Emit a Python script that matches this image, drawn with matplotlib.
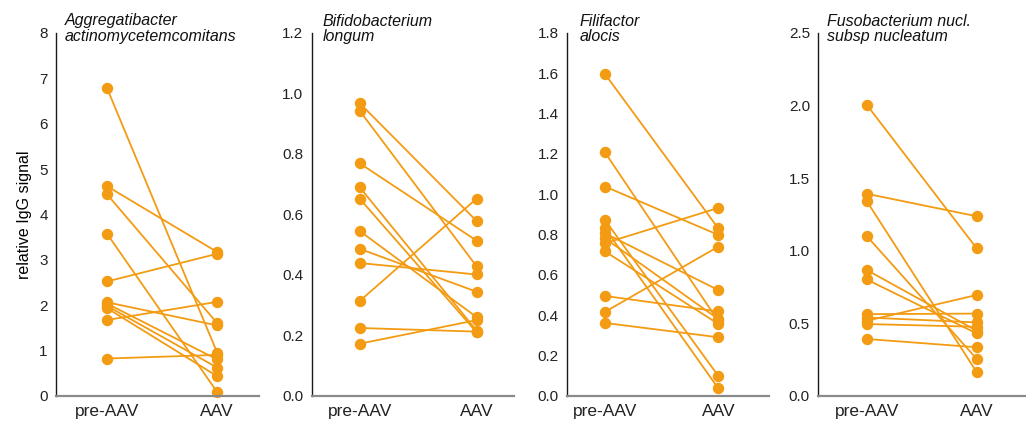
import matplotlib
matplotlib.use("Agg")
import matplotlib.pyplot as plt
from matplotlib.ticker import FormatStrFormatter

plt.rcParams['font.family'] = ['Liberation Sans', 'DejaVu Sans']

groups = ["pre-AAV", "AAV"]

titles = [
    ("Aggregatibacter", "actinomycetemcomitans"),
    ("Bifidobacterium", "longum"),
    ("Filifactor", "alocis"),
    ("Fusobacterium nucl.", "subsp nucleatum"),
]

aa_pre = [6.78, 4.62, 4.44, 3.57, 2.52, 2.06, 2.03, 1.98, 1.93, 1.67, 0.82]
aa_aav = [0.95, 3.17, 1.60, 0.08, 3.13, 1.55, 0.80, 0.62, 0.43, 2.07, 0.90]

bl_pre = [0.968, 0.943, 0.769, 0.690, 0.652, 0.545, 0.486, 0.439, 0.313, 0.224, 0.172]
bl_aav = [0.578, 0.428, 0.513, 0.215, 0.210, 0.260, 0.344, 0.401, 0.652, 0.212, 0.250]

fa_pre = [1.596, 1.207, 1.038, 0.871, 0.830, 0.806, 0.781, 0.757, 0.716, 0.495, 0.416, 0.361]
fa_aav = [0.830, 0.370, 0.798, 0.098, 0.036, 0.524, 0.380, 0.932, 0.356, 0.418, 0.740, 0.290]

fn_pre = [2.006, 1.392, 1.342, 1.101, 0.867, 0.801, 0.562, 0.539, 0.516, 0.494, 0.391]
fn_aav = [1.017, 1.237, 0.164, 0.255, 0.448, 0.430, 0.566, 0.505, 0.694, 0.475, 0.334]

yticks = [
    [0, 1, 2, 3, 4, 5, 6, 7, 8],
    [0.0, 0.2, 0.4, 0.6, 0.8, 1.0, 1.2],
    [0.0, 0.2, 0.4, 0.6, 0.8, 1.0, 1.2, 1.4, 1.6, 1.8],
    [0.0, 0.5, 1.0, 1.5, 2.0, 2.5],
]
yfmt = ['%d', '%.1f', '%.1f', '%.1f']
pre_vals = [aa_pre, bl_pre, fa_pre, fn_pre]
aav_vals = [aa_aav, bl_aav, fa_aav, fn_aav]

W, H = 1026, 423
fig = plt.figure(figsize=(W / 100, H / 100), dpi=100)

# axes boxes in pixels: left, right ; y from top
boxes = [(56, 259), (311.7, 514), (567.3, 769), (818.3, 1026)]
xlims = [(-0.464, 1.38), (-0.41, 1.32), (-0.333, 1.447), (-0.44, 1.45)]
top_px, bot_px = 33, 395.7
title_x = [65, 322.7, 580, 826.7]

color = '#F39B12'
for i in range(4):
    l, r = boxes[i]
    ax = fig.add_axes([l / W, 1 - bot_px / H, (r - l) / W, (bot_px - top_px) / H])
    for a, b in zip(pre_vals[i], aav_vals[i]):
        ax.plot([0, 1], [a, b], color=color, lw=1.3, marker='o', ms=7.2,
                mec=color, mfc=color, solid_capstyle='round', clip_on=False)
    ax.set_xlim(*xlims[i])
    ax.set_ylim(yticks[i][0], yticks[i][-1])
    ax.set_yticks(yticks[i])
    ax.yaxis.set_major_formatter(FormatStrFormatter(yfmt[i]))
    ax.set_xticks([0, 1])
    ax.set_xticklabels(groups, fontsize=12.5)
    ax.tick_params(axis='y', length=0, pad=6, labelsize=11, colors='#222222')
    ax.tick_params(axis='x', length=0, pad=6, colors='#222222')
    ax.spines['top'].set_visible(False)
    ax.spines['right'].set_visible(False)
    ax.spines['left'].set_color('#1a1a1a')
    ax.spines['left'].set_linewidth(1.0)
    ax.spines['bottom'].set_color('#8a8a8a')
    ax.spines['bottom'].set_linewidth(1.6)
    ax.set_facecolor('none')
    if i == 0:
        ax.set_ylabel('relative IgG signal', fontsize=11.5, labelpad=5)
    fig.text(title_x[i] / W, 1 - 25.5 / H, titles[i][0], style='italic',
             fontsize=11.5, va='baseline', ha='left', color='#111111')
    fig.text(title_x[i] / W, 1 - 41 / H, titles[i][1], style='italic',
             fontsize=11.5, va='baseline', ha='left', color='#111111')

fig.savefig('out.png', dpi=100)
